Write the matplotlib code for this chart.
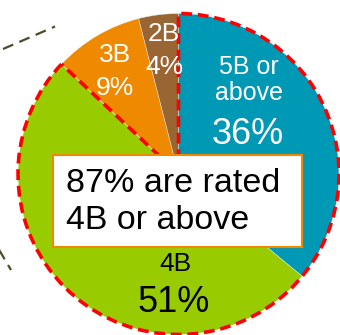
import matplotlib.pyplot as plt
from matplotlib.patches import Wedge, Rectangle

plt.rcParams["font.family"] = ["Liberation Sans", "DejaVu Sans"]

# rating shares, clockwise from 12 o'clock
grades = ["5B or\nabove", "4B", "3B", "2B"]
shares = [36, 51, 9, 4]
colors = ["#0099B5", "#99CC00", "#EE8900", "#996633"]
label_colors = ["white", "black", "white", "white"]
note = "87% are rated\n4B or above"

W, H = 340, 335


def px(x, y):
    # image pixel coords (y down) -> axes data coords (y up)
    return x, H - y


fig = plt.figure(figsize=(3.4, 3.35), dpi=100)
ax = fig.add_axes([0, 0, 1, 1])

cx, cy = px(178.5, 174)
r = 160.5

ax.pie(shares, colors=colors, startangle=90, counterclock=False,
       center=(cx, cy), radius=r,
       wedgeprops=dict(edgecolor="#f0f0f0", linewidth=0.3))

# red dashed outline around 5B + 4B
top_share = sum(shares[:2]) / sum(shares)
theta1 = 90 - top_share * 360 + 360
ax.add_patch(Wedge((cx, cy), r, theta1, 450, fill=False, edgecolor="red",
                   linewidth=2.6, linestyle=(0, (3, 1.6)), zorder=4))

# dark dashed leader lines on the left
for (x0, y0), (x1, y1) in [((3, 49), (55, 26.5)), ((-2, 248), (11, 270))]:
    a, b = px(x0, y0)
    c, d = px(x1, y1)
    ax.plot([a, c], [b, d], color="#4F4A2E", linewidth=1.6,
            linestyle=(0, (5, 3)), zorder=3)

# slice labels
pos = {0: [(249, 80, 18), (248, 135, 26)],
       1: [(175, 264, 19), (174, 302, 26)],
       2: [(115, 55, 19), (115, 88, 19)],
       3: [(164, 34, 19), (164, 67, 19)]}
for i, g in enumerate(grades):
    (x0, y0, s0), (x1, y1, s1) = pos[i]
    ax.text(*px(x0, y0), g, ha="center", va="center", fontsize=s0,
            color=label_colors[i], linespacing=1.15, zorder=6)
    ax.text(*px(x1, y1), f"{shares[i]}%", ha="center", va="center",
            fontsize=s1, color=label_colors[i], zorder=6)

# note box
bx, by = px(53, 247)
ax.add_patch(Rectangle((bx, by), 249, 92, facecolor="white",
                       edgecolor="#EE8900", linewidth=1.5, zorder=7))
ax.text(*px(66, 202), note, ha="left", va="center", fontsize=24.5,
        color="black", linespacing=1.25, zorder=8)

ax.set_xlim(0, W)
ax.set_ylim(0, H)
ax.set_axis_off()

fig.savefig("out.png", dpi=100)
